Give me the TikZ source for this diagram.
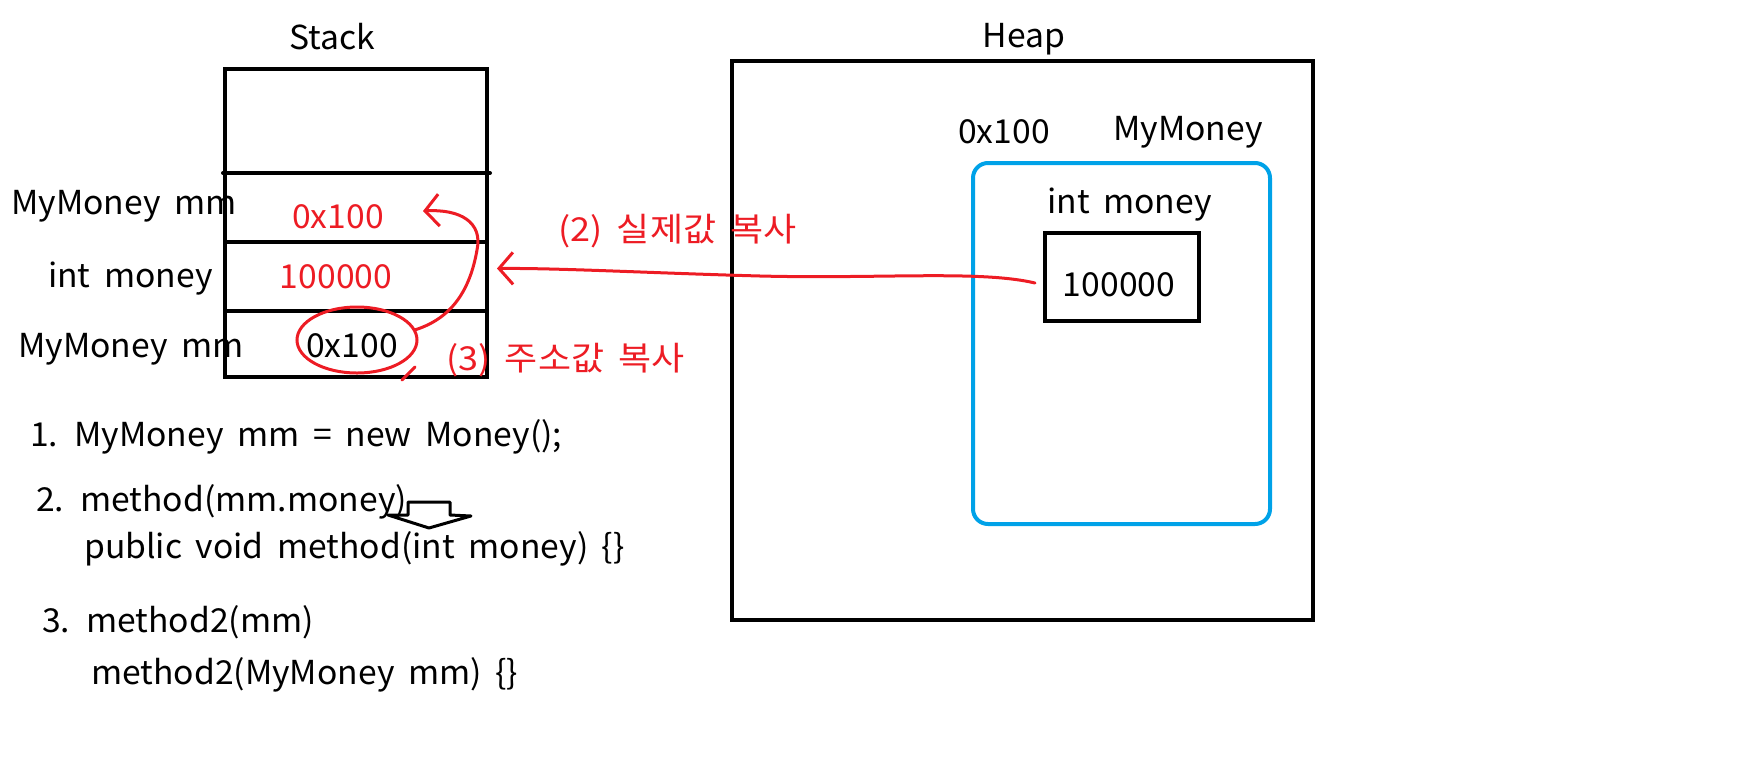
\documentclass[tikz,border=0pt]{standalone}
\usepackage{fontspec}
\setmainfont{Noto Sans CJK KR}[WordSpace=1.8, FakeStretch=1.02]
\newfontfamily\krfont{Noto Sans CJK KR}[WordSpace=1.8, FakeStretch=1.09]
\usetikzlibrary{positioning,arrows.meta,calc,shapes.geometric}
\definecolor{PaintRed}{HTML}{ED1C24}
\definecolor{PaintBlue}{HTML}{00A2E8}

\begin{document}
\begin{tikzpicture}[
    x=1pt, y=-1pt,
    cellbox/.style={
      draw,
      line width=4pt,
      minimum width=262pt,
      inner sep=0pt,
      outer sep=0pt
    },
    memtext/.style={
      font=\fontsize{33}{38}\selectfont,
      inner sep=0pt
    },
    redtext/.style={
      memtext,
      text=PaintRed
    },
    penline/.style={
      PaintRed,
      line width=3pt,
      line cap=round,
      line join=round
    },
    penarrow/.style={
      penline,
      -{Straight Barb[length=14pt,width=32pt,line width=3pt]}
    }
  ]
  \useasboundingbox (0,0) rectangle (1749,780);

  % Stack
  \node[memtext] (stacktitle) at (332,37) {Stack};
  \node[cellbox, minimum height=104pt] (cell0) at (356,121) {};
  \node[cellbox, minimum height=69pt, below=0pt of cell0] (cell1) {};
  \node[cellbox, minimum height=69pt, below=0pt of cell1] (cell2) {};
  \node[cellbox, minimum height=66pt, below=0pt of cell2] (cell3) {};
  \draw[line width=4pt, line cap=round] ([xshift=-2pt]cell0.south west) -- ([xshift=3pt]cell0.south east);

  \node[memtext, anchor=west] (lblref) at (11,206) {MyMoney mm};
  \node[memtext, anchor=west] (lblint) at (48,279) {int money};
  \node[memtext, anchor=west] (lblarg) at (18,349) {MyMoney mm};

  \node[redtext] (copyaddr) at (338,217) {0x100};
  \node[redtext] (copyval) at (336,277) {100000};
  \node[memtext] (addr) at (352,346) {0x100};
  \node[draw=PaintRed, line width=3pt, ellipse, minimum width=120pt,
        minimum height=66pt] (addrring) at (357,340) {};

  % Heap
  \node[memtext] (heaptitle) at (1024,39) {Heap};
  \node[draw, line width=4pt, minimum width=581pt, minimum height=559pt]
        (heap) at (1022.5,340.5) {};
  \node[memtext] (objaddr) at (1004,132) {0x100};
  \node[memtext] (objtype) at (1188,132) {MyMoney};
  \node[draw=PaintBlue, line width=4pt, rounded corners=15pt,
        minimum width=297pt, minimum height=361pt] (obj) at (1121.5,343.5) {};
  \node[memtext] (fieldname) at (1129.5,205) {int money};
  \node[draw, line width=4pt, minimum width=154pt, minimum height=88pt]
        (valbox) at (1122,277) {};
  \node[memtext] (fieldval) at (1119,285) {100000};

  % 복사 화살표
  \coordinate (valtip) at ([xshift=10pt,yshift=8pt]cell2.east);
  \coordinate (addrtip) at (423,211);
  \draw[penarrow] ([xshift=-8pt,yshift=-6pt]valbox.west)
    .. controls (980,270) and (880,279) .. (760,276)
    .. controls (650,273) and (560,268) .. (valtip);
  \draw[penarrow] (addrring.10)
    .. controls (452,318) and (470,290) .. (477,250)
    .. controls (483,222) and (460,209) .. (addrtip);
  \draw[penline] (415,367) -- (402,380);

  \node[redtext, anchor=west] (steptwo) at (558,231) {\krfont (2) 실제값 복사};
  \node[redtext, anchor=west] (stepthree) at (446,360) {\krfont (3) 주소값 복사};

  % 코드
  \node[memtext, anchor=west] (newline) at (30,437) {1. MyMoney mm = new Money();};
  \node[memtext, anchor=west] (callline) at (36,502) {2. method(mm.money)};
  \node[memtext, anchor=west] (sigline) at (84,549) {public void method(int money) \{\}};
  \node[memtext, anchor=west] (callline2) at (42,622) {3. method2(mm)};
  \node[memtext, anchor=west] (sigline2) at (91,675) {method2(MyMoney mm) \{\}};

  \draw[line width=3pt, line join=round]
    (388,515) -- (408,515) -- (408,502) -- (450,502) -- (450,515)
    -- (471,516) -- (429,528) -- cycle;

\end{tikzpicture}
\end{document}
